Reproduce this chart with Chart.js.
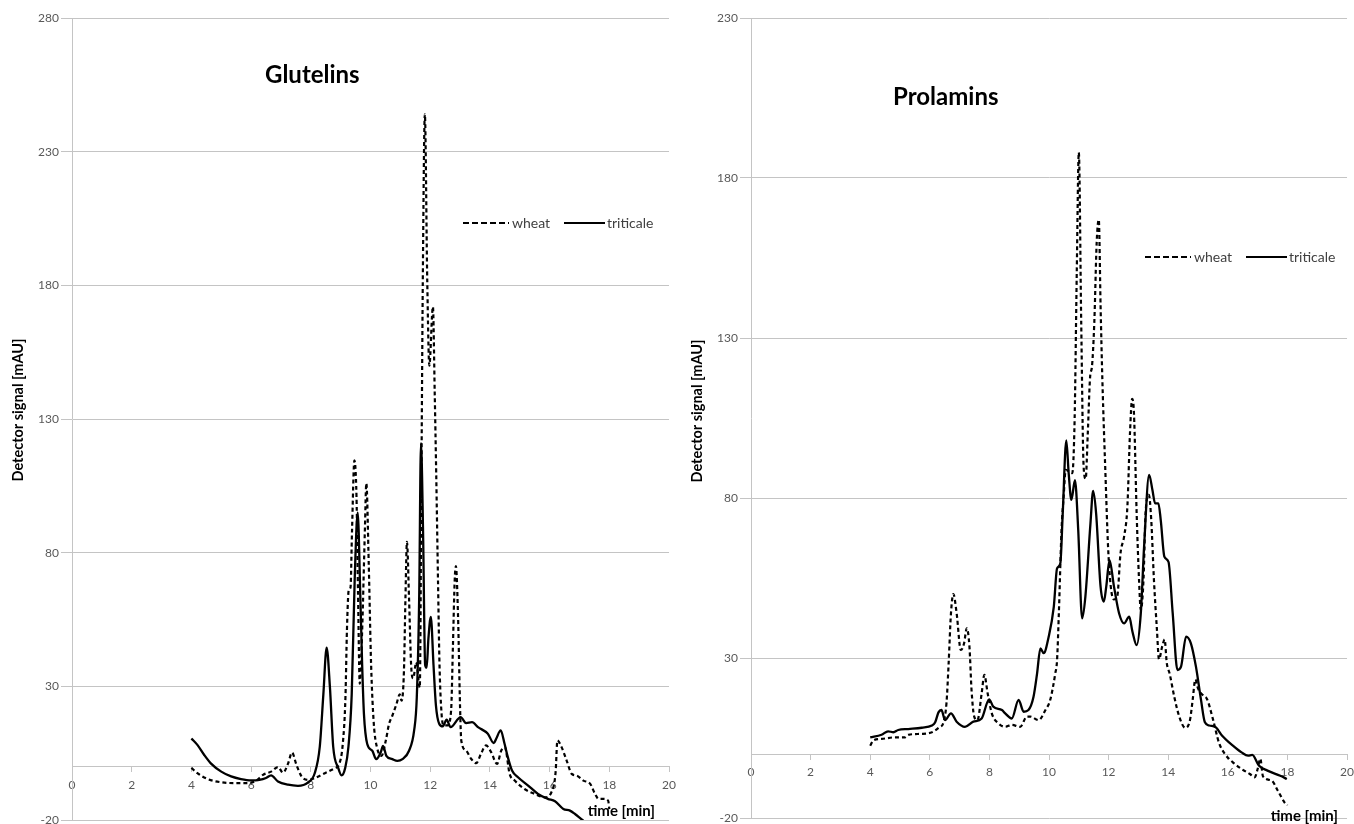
<!DOCTYPE html>
<html>
<head>
<meta charset="utf-8">
<script src="https://cdn.jsdelivr.net/npm/chart.js@4.4.1/dist/chart.umd.min.js"></script>
<style>
  html, body { margin: 0; padding: 0; background: #fff; overflow: hidden; }
  .panel { position: absolute; top: 0; height: 834px; }
  #left { left: 0; width: 682px; }
  #right { left: 677px; width: 683px; }
</style>
</head>
<body>
<div class="panel" id="left"><canvas id="glut" width="682" height="834"></canvas></div>
<div class="panel" id="right"><canvas id="prol" width="683" height="834"></canvas></div>
<script>
// Glutelins - wheat (dashed)
const glutWheatTime = [4.0,4.2,4.55,5.0,5.45,5.9,6.17,6.4,6.67,6.9,7.07,7.24,7.37,7.52,7.69,7.91,8.13,8.47,8.81,8.95,
  9.07,9.16,9.21,9.27,9.33,9.38,9.46,9.53,9.58,9.64,9.72,9.81,9.86,9.94,10.02,10.11,10.22,10.37,10.51,10.62,
  10.73,10.87,10.98,11.04,11.12,11.17,11.22,11.29,11.36,11.43,11.53,11.65,11.7,11.75,11.82,11.9,11.97,12.09,12.15,12.2,
  12.26,12.31,12.38,12.45,12.58,12.7,12.76,12.82,12.86,12.93,13.0,13.04,13.2,13.37,13.54,13.7,13.87,14.04,14.24,14.38,
  14.5,14.66,14.83,15.16,15.5,15.84,16.06,16.2,16.26,16.4,16.57,16.74,16.91,17.13,17.36,17.52,17.64,17.81,17.96,18.0];
const glutWheat = [-0.5,-2.5,-4.7,-5.9,-6.2,-6.2,-5.3,-3.1,-1.9,-0.2,-2.3,1.2,5.2,0.6,-3.7,-5.0,-4.3,-2.5,-0.6,0.9,
  8.4,25.9,51,66,67,88,114.5,101,66,31,51,88,106,76,38,16,7,4,9.6,15.9,
  19,23.4,27,24.6,35.9,63,84,63,38,33,39,29.5,100,180,244,182,150,172,140,110,
  70,38.5,19.75,15.4,15.4,21,44.75,69.75,75,57,22,9.75,6,2.9,1.25,4.75,7.9,5.4,1.0,6,
  7.25,-2.75,-5.25,-8.4,-10.25,-11.5,-9.6,-2.1,9.75,7.25,2.25,-2.75,-3.4,-5.25,-6.5,-10.25,-12.1,-12.1,-12.75,-15.9];

// Glutelins - triticale (solid)
const glutTritTime = [4.0,4.2,4.43,4.65,5.0,5.33,5.66,6.0,6.28,6.5,6.67,6.9,7.24,7.57,7.9,8.13,8.3,8.42,8.53,8.64,
  8.75,8.92,9.03,9.15,9.26,9.37,9.47,9.57,9.66,9.72,9.78,9.89,10.06,10.19,10.34,10.42,10.53,10.73,10.9,11.07,
  11.29,11.46,11.55,11.63,11.69,11.76,11.83,11.88,11.94,12.02,12.11,12.19,12.3,12.42,12.55,12.68,13.02,13.2,13.4,13.6,
  13.93,14.13,14.21,14.36,14.49,14.6,14.74,14.94,15.28,15.61,15.94,16.18,16.46,16.68,16.85,17.13,17.4];
const glutTrit = [10.5,8.1,4.3,1.2,-1.9,-3.7,-4.7,-5.2,-5.0,-4.3,-3.3,-5.6,-6.8,-7.2,-6.0,-2.5,7.4,27,44.5,29.7,
  7.4,-0.6,-3.3,-0.6,7.4,27,70,95,63,38,19.6,8.4,5.9,2.75,5.25,7.75,4,2.75,2.1,2.75,
  5.9,13.4,25.9,63,121,88,38,37,48,56,38,23,16,15,17.5,14.75,18.5,16.25,16.6,14.75,
  12.25,8.75,10.4,13.5,8.5,3.5,-1.5,-4,-7.1,-10.25,-12.1,-13,-15.9,-16.5,-17.75,-20.25,-22];

// Prolamins - wheat (dashed)
const prolWheatTime = [4.0,4.1,4.38,4.83,5.17,5.28,5.73,6.07,6.31,6.46,6.56,6.63,6.71,6.79,6.9,7.04,7.15,7.24,7.33,7.4,
  7.49,7.6,7.74,7.83,7.94,8.08,8.3,8.53,8.75,9.03,9.26,9.37,9.65,9.88,10.04,10.21,10.27,10.33,10.42,10.49,
  10.56,10.78,10.86,10.93,11.0,11.08,11.16,11.23,11.3,11.38,11.44,11.52,11.6,11.67,11.73,11.79,11.9,11.98,12.07,12.18,
  12.29,12.4,12.52,12.63,12.72,12.79,12.85,12.94,13.02,13.08,13.17,13.24,13.35,13.43,13.52,13.62,13.69,13.8,13.88,13.95,
  14.05,14.2,14.37,14.57,14.73,14.82,14.91,15.0,15.18,15.3,15.5,15.7,15.9,16.17,16.46,16.74,16.9,17.0,17.09,17.18,
  17.47,17.68,17.9,18.0];
const prolWheat = [2.6,4.2,4.7,5.2,5.2,6.0,6.3,6.8,8.3,9.9,16,28,44,50,44,32.5,34.6,39.3,33.5,20,
  11.7,10.6,19,24.7,19,12.7,9.6,8.5,9.1,8.5,11.7,11.7,10.6,13.75,16.9,25.2,29.4,44,70,80.4,
  88.8,87.8,105,150,188,135,90,86,100,118,121,135,160,167,140,117,85.7,65,52.5,48.3,
  49.3,62.8,68,77.4,101,111,106.5,75.3,54.5,45,54.5,75.3,81,73.2,54.5,39,29.6,33.7,35.8,28.5,
  25,18,11.7,8.2,10.6,16.9,23.3,20.5,18.2,17.2,10.9,3.6,0,-2.6,-4.7,-6.25,-7.3,-4.7,-1.5,-7,
  -8.3,-11.5,-15.1,-16];

// Prolamins - triticale (solid)
const prolTritTime = [4.0,4.38,4.6,4.78,4.94,5.28,5.73,6.07,6.18,6.29,6.39,6.51,6.71,6.9,7.18,7.46,7.74,7.99,8.13,8.42,
  8.53,8.75,8.98,9.15,9.31,9.48,9.6,9.71,9.82,9.99,10.16,10.27,10.38,10.46,10.58,10.66,10.75,10.87,10.98,11.11,
  11.22,11.39,11.48,11.58,11.73,11.84,11.92,12.03,12.18,12.35,12.52,12.69,12.8,12.94,13.08,13.19,13.36,13.47,13.56,13.67,
  13.75,13.87,14.01,14.15,14.31,14.43,14.6,14.76,14.93,15.1,15.23,15.38,15.6,15.81,16.17,16.46,16.68,16.82,17.04,17.33,
  17.76,17.98];
const prolTrit = [5.2,6.0,7.1,6.8,7.5,7.8,8.2,8.9,9.9,13,13.75,10.6,12.7,10.1,8.5,10.1,11.1,17.1,14.8,13.75,
  12.7,11.1,16.9,13.2,13.75,17.9,25.2,33,31.5,36.7,46,58,59.6,75.2,98,87.7,79.4,85.6,70,42.4,
  49.2,72,82.2,75.2,52.3,47.6,52.3,60.6,52.3,44,40.8,42.9,38.2,34,44,64.8,87.2,82.5,78.3,78.3,
  73,61.7,60,44,26.25,27.3,36.7,34.6,27.3,16.9,9.9,8.9,8.3,5.7,2.6,0.5,-0.5,-0.3,-3.6,-5.2,
  -6.8,-7.8];

const seriesNames = ['wheat', 'triticale'];
const xTicksStep = 2;
const yTicksStep = 50;

const FONT = 'Lato';
const GRID = '#c4c4c4';
const TICK = '#595959';
const WHEAT_DASH = [4, 3];

const toPoints = (t, v) => t.map((x, i) => ({x: x, y: v[i]}));

// titles, legend and axis titles drawn by hand
const overlay = {
  id: 'overlay',
  afterDraw(chart, args, o) {
    const ctx = chart.ctx;
    ctx.save();
    ctx.fillStyle = '#000';
    ctx.textBaseline = 'middle';
    ctx.textAlign = 'left';
    ctx.font = 'bold 24px ' + FONT;
    ctx.fillText(o.title, o.titleX, o.titleY);

    // legend
    const ly = o.legendY;
    ctx.strokeStyle = '#000';
    ctx.lineWidth = 2.2;
    ctx.setLineDash([6, 3]);
    ctx.beginPath(); ctx.moveTo(o.legendX, ly); ctx.lineTo(o.legendX + 46, ly); ctx.stroke();
    ctx.setLineDash([]);
    ctx.beginPath(); ctx.moveTo(o.legendX + 101, ly); ctx.lineTo(o.legendX + 142, ly); ctx.stroke();
    ctx.fillStyle = '#404040';
    ctx.font = '14px ' + FONT;
    ctx.fillText(seriesNames[0], o.legendX + 49, ly);
    ctx.fillText(seriesNames[1], o.legendX + 144, ly);

    // x axis title
    ctx.fillStyle = '#000';
    ctx.font = 'bold 15px ' + FONT;
    ctx.textAlign = 'right';
    ctx.fillText('time [min]', o.xTitleX, o.xTitleY);

    // y axis title
    ctx.translate(o.yTitleX, o.yTitleY);
    ctx.rotate(-Math.PI / 2);
    ctx.textAlign = 'center';
    ctx.font = 'bold 14.5px ' + FONT;
    ctx.fillText('Detector signal [mAU]', 0, 0);
    ctx.restore();
  }
};

function makeChart(id, wheatPts, tritPts, yMax, yAxisWidth, pad, ov) {
  return new Chart(document.getElementById(id), {
    type: 'line',
    data: {
      datasets: [{
        label: seriesNames[0],
        data: wheatPts,
        borderColor: '#000',
        borderWidth: 2.2,
        borderDash: WHEAT_DASH,
        pointRadius: 0,
        cubicInterpolationMode: 'monotone',
        fill: false
      }, {
        label: seriesNames[1],
        data: tritPts,
        borderColor: '#000',
        borderWidth: 2.3,
        pointRadius: 0,
        cubicInterpolationMode: 'monotone',
        fill: false
      }]
    },
    options: {
      responsive: false,
      animation: false,
      events: [],
      layout: { padding: pad },
      plugins: {
        legend: { display: false },
        tooltip: { enabled: false },
        overlay: ov
      },
      scales: {
        x: {
          type: 'linear',
          min: 0, max: 20,
          position: { y: 0 },
          ticks: { stepSize: xTicksStep, color: TICK, font: { family: FONT, size: 12 }, padding: 6, maxRotation: 0 },
          grid: { drawOnChartArea: false, drawTicks: true, tickLength: 5, color: GRID },
          border: { color: GRID }
        },
        y: {
          min: -20, max: yMax,
          ticks: { stepSize: yTicksStep, color: TICK, font: { family: FONT, size: 12 }, padding: 2 },
          grid: { color: GRID, tickLength: 11 },
          border: { color: GRID },
          afterFit(scale) { scale.width = yAxisWidth; }
        }
      }
    },
    plugins: [overlay]
  });
}

makeChart('glut', toPoints(glutWheatTime, glutWheat), toPoints(glutTritTime, glutTrit),
  280, 72, { left: 0, top: 18, right: 0, bottom: 14 },
  { title: 'Glutelins', titleX: 265, titleY: 75, legendX: 463, legendY: 223,
    xTitleX: 655, xTitleY: 811, yTitleX: 18, yTitleY: 410 });

makeChart('prol', toPoints(prolWheatTime, prolWheat), toPoints(prolTritTime, prolTrit),
  230, 74, { left: 0, top: 18, right: 0, bottom: 16 },
  { title: 'Prolamins', titleX: 216, titleY: 97, legendX: 468, legendY: 257,
    xTitleX: 661, xTitleY: 816, yTitleX: 20, yTitleY: 411 });
</script>
</body>
</html>
